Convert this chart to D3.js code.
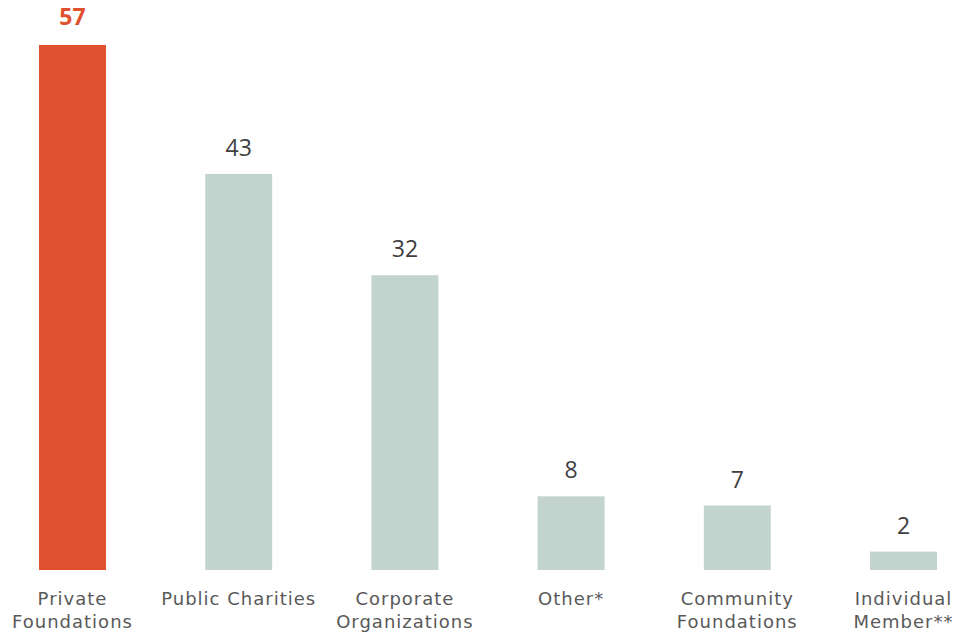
<!DOCTYPE html>
<html>
<head>
<meta charset="utf-8">
<script src="https://cdn.jsdelivr.net/npm/d3@7"></script>
<style>
  body { margin: 0; background: #fff; }
  svg { display: block; }
</style>
</head>
<body>
<svg id="chart"></svg>
<script>
// Data
const categories = [
  ["Private", "Foundations"],
  ["Public Charities"],
  ["Corporate", "Organizations"],
  ["Other*"],
  ["Community", "Foundations"],
  ["Individual", "Member**"]
];
const values = [57, 43, 32, 8, 7, 2];
const highlight = 0; // first bar drawn in orange

const width = 955, height = 633;
const baseY = 570, topY = 45;

const svg = d3.select("#chart")
  .attr("width", width)
  .attr("height", height);

const idx = d3.range(values.length);

// X scale — one band per category
const x = d3.scaleBand()
  .domain(idx)
  .range([-10.6, 986.6])
  .paddingInner(0.597)
  .paddingOuter(0.2985);

// Y scale — value
const y = d3.scaleLinear()
  .domain([0, d3.max(values)])
  .range([baseY, topY]);

// Bars
svg.selectAll(".bar")
  .data(idx)
  .enter()
  .append("rect")
  .attr("class", "bar")
  .attr("x", i => x(i))
  .attr("y", i => y(values[i]))
  .attr("width", x.bandwidth())
  .attr("height", i => baseY - y(values[i]))
  .attr("fill", i => i === highlight ? "#E0522F" : "#C3D3CE");

// Value labels
svg.selectAll(".val")
  .data(idx)
  .enter()
  .append("text")
  .attr("class", "val")
  .attr("x", i => x(i) + x.bandwidth() / 2)
  .attr("y", i => y(values[i]) - (i === highlight ? 20 : 18))
  .attr("text-anchor", "middle")
  .style("font-family", "'Open Sans', sans-serif")
  .style("font-size", "23px")
  .style("font-weight", i => i === highlight ? "bold" : "normal")
  .attr("fill", i => i === highlight ? "#E0522F" : "#404040")
  .text(i => values[i]);

// Category labels
const cat = svg.selectAll(".cat")
  .data(idx)
  .enter()
  .append("text")
  .attr("class", "cat")
  .attr("x", i => x(i) + x.bandwidth() / 2)
  .attr("y", 605)
  .attr("text-anchor", "middle")
  .style("font-family", "'DejaVu Sans', Verdana, sans-serif")
  .style("font-size", "18px")
  .style("letter-spacing", "1px")
  .attr("fill", "#595959");

cat.selectAll("tspan")
  .data(i => categories[i].map(t => ({ t, cx: x(i) + x.bandwidth() / 2 })))
  .enter()
  .append("tspan")
  .attr("x", d => d.cx)
  .attr("dy", (d, j) => j === 0 ? 0 : 23)
  .text(d => d.t);
</script>
</body>
</html>
